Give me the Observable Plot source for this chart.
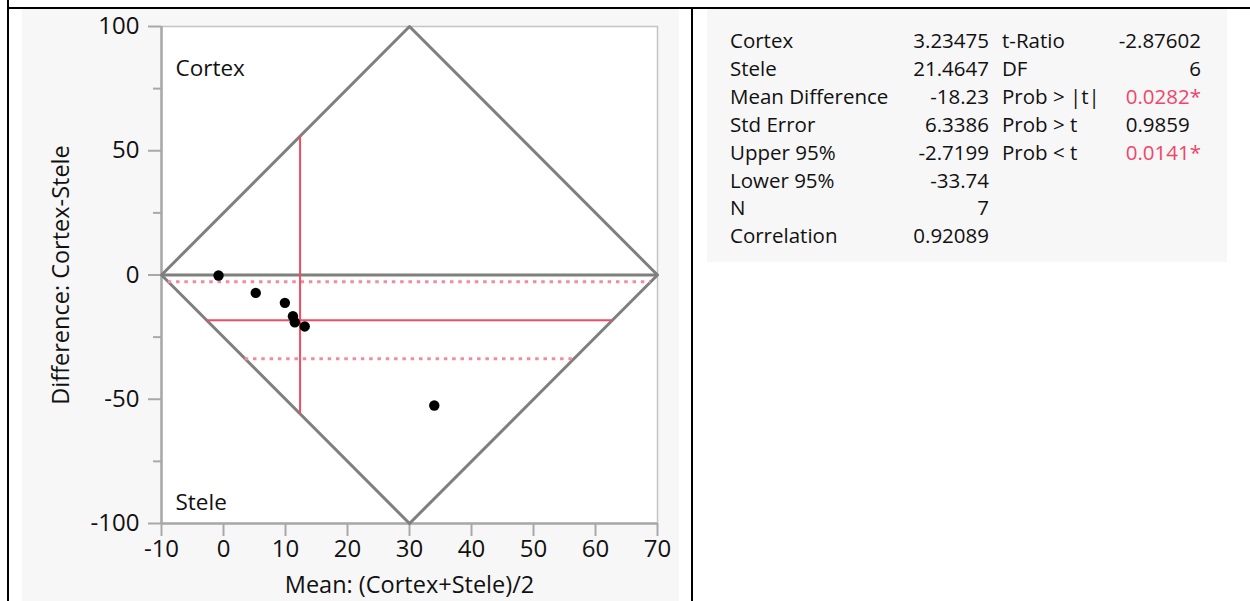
<!DOCTYPE html>
<html><head><meta charset="utf-8">
<script src="https://cdn.jsdelivr.net/npm/d3@7"></script>
<script src="https://cdn.jsdelivr.net/npm/@observablehq/plot@0.6"></script>
<style>
body{margin:0;width:1250px;height:601px;background:#fff;position:relative;overflow:hidden;font-family:"Open Sans",sans-serif;color:#111;}
.bl{position:absolute;background:#000;}
#leftpanel{position:absolute;left:22px;top:9px;width:657px;height:592px;background:#f7f7f7;}
#rightpanel{position:absolute;left:707px;top:9px;width:520px;height:253px;background:#f7f7f7;}
#chart{position:absolute;left:22px;top:9px;}
.cell{position:absolute;font-size:20.5px;line-height:28px;white-space:pre;}
.sig{color:#f0456a;}
</style></head><body>
<div class="bl" style="left:7px;top:0;width:2px;height:601px"></div>
<div class="bl" style="left:7px;top:7px;width:1243px;height:2px"></div>
<div class="bl" style="left:691px;top:7px;width:2px;height:594px"></div>
<div id="leftpanel"></div>
<div id="rightpanel"></div>
<div id="chart"></div>
<div id="table"></div>
<script>
// ---- data ----
const pairMean = [-0.8, 5.2, 9.9, 11.2, 11.5, 13.1, 34.0];      // (Cortex+Stele)/2
const pairDiff = [-0.2, -7.2, -11.2, -16.6, -19.0, -20.7, -52.5]; // Cortex-Stele
const xTicks = [-10, 0, 10, 20, 30, 40, 50, 60, 70];
const yTicks = [-100, -50, 0, 50, 100];
const yMinorTicks = [-75, -25, 25, 75];
const diamondX = [-10, 30, 70, 30, -10];
const diamondY = [0, 100, 0, -100, 0];
const grandMean = 12.35;      // mean of (Cortex+Stele)/2
const meanDifference = -18.23;
const upper95 = -2.7199;
const lower95 = -33.74;
const xLabel = "Mean: (Cortex+Stele)/2";
const yLabel = "Difference: Cortex-Stele";
const cornerLabels = ["Cortex", "Stele"];

const statLabels = ["Cortex", "Stele", "Mean Difference", "Std Error", "Upper 95%", "Lower 95%", "N", "Correlation"];
const statValues = ["3.23475", "21.4647", "-18.23", "6.3386", "-2.7199", "-33.74", "7", "0.92089"];
const testLabels = ["t-Ratio", "DF", "Prob > |t|", "Prob > t", "Prob < t"];
const testValues = ["-2.87602", "6", "0.0282", "0.9859", "0.0141"];
const testIsProb = [false, false, true, true, true];
const testSignificant = [false, false, true, false, true];

// ---- derived geometry from the diamond (slope 100/40) ----
const slope = 100 / 40;
const leftAt = v => -10 + Math.abs(v) / slope;
const rightAt = v => 70 - Math.abs(v) / slope;
const hLines = [
  {y: meanDifference, dash: null, w: 2, c: "#f04c62"},
  {y: upper95, dash: "3.5,4.8", w: 3, c: "#f58a9c"},
  {y: lower95, dash: "3.5,4.8", w: 3, c: "#f58a9c"}
].map(d => ({...d, x1: leftAt(d.y), x2: rightAt(d.y)}));
const vHalf = slope * (grandMean + 10);

const points = pairMean.map((m, i) => ({m, d: pairDiff[i]}));
const diamond = diamondX.map((x, i) => ({x, y: diamondY[i]}));
const fmt = d => String(d);

const font = '"Open Sans", sans-serif';
const chart = Plot.plot({
  width: 657, height: 592,
  marginLeft: 139, marginTop: 17, marginRight: 22, marginBottom: 78,
  style: {background: "transparent", fontFamily: font, color: "#111"},
  x: {domain: [-10, 70], axis: null},
  y: {domain: [-100, 100], axis: null},
  marks: [
    Plot.frame({fill: "white", stroke: "#c4c4c4", strokeWidth: 1.5}),
    Plot.ruleX([-10], {stroke: "#a8a8a8", strokeWidth: 2.5}),
    Plot.ruleY([-100], {stroke: "#a8a8a8", strokeWidth: 2.5}),
    Plot.axisY(yTicks, {tickSize: 13, tickPadding: 9, stroke: "#a8a8a8", strokeWidth: 2, fontSize: 24, fill: "#111", label: null, tickFormat: fmt}),
    Plot.axisY(yMinorTicks, {tickSize: 8, text: null, stroke: "#a8a8a8", strokeWidth: 2, label: null}),
    Plot.axisX(xTicks, {tickSize: 13, tickPadding: 3, stroke: "#a8a8a8", strokeWidth: 2, fontSize: 24, fill: "#111", label: null, tickFormat: fmt}),
    Plot.ruleY([0], {stroke: "#7f7f7f", strokeWidth: 3}),
    Plot.line(diamond, {x: "x", y: "y", stroke: "#7f7f7f", strokeWidth: 3}),
    ...hLines.map(d => Plot.ruleY([d], {y: "y", x1: "x1", x2: "x2", stroke: d.c, strokeWidth: d.w, strokeDasharray: d.dash})),
    Plot.ruleX([grandMean], {y1: -vHalf, y2: vHalf, stroke: "#f04c62", strokeWidth: 2}),
    Plot.dot(points, {x: "m", y: "d", r: 5.2, fill: "black", stroke: "none"}),
    Plot.text([cornerLabels[0]], {frameAnchor: "top-left", dx: 14, dy: 42, textAnchor: "start", lineAnchor: "middle", fontSize: 22.5, fill: "#111"}),
    Plot.text([cornerLabels[1]], {frameAnchor: "bottom-left", dx: 14, dy: -21, textAnchor: "start", lineAnchor: "middle", fontSize: 22.5, fill: "#111"}),
    Plot.text([xLabel], {frameAnchor: "bottom", dy: 62, textAnchor: "middle", lineAnchor: "middle", fontSize: 23.5, fill: "#111"}),
    Plot.text([yLabel], {frameAnchor: "left", dx: -100, rotate: -90, textAnchor: "middle", lineAnchor: "middle", fontSize: 23.5, fill: "#111"})
  ]
});
document.getElementById("chart").appendChild(chart);

// ---- statistics table ----
const table = document.getElementById("table");
const rowTop = i => 26 + i * 27.9;
function cell(text, style, cls) {
  const el = document.createElement("div");
  el.className = "cell" + (cls ? " " + cls : "");
  el.textContent = text;
  Object.assign(el.style, style);
  table.appendChild(el);
  return el;
}
statLabels.forEach((t, i) => {
  cell(t, {left: "730px", top: rowTop(i) + "px"});
  cell(statValues[i], {right: (1250 - 989) + "px", top: rowTop(i) + "px", textAlign: "right"});
});
testLabels.forEach((t, i) => {
  cell(t, {left: "1002px", top: rowTop(i) + "px"});
  const el = cell(testValues[i], {right: (1250 - 1201) + "px", top: rowTop(i) + "px", textAlign: "right"}, testSignificant[i] ? "sig" : "");
  if (testIsProb[i]) {
    const s = document.createElement("span");
    s.textContent = "*";
    if (!testSignificant[i]) s.style.visibility = "hidden";
    el.appendChild(s);
  }
});
</script>
</body></html>
